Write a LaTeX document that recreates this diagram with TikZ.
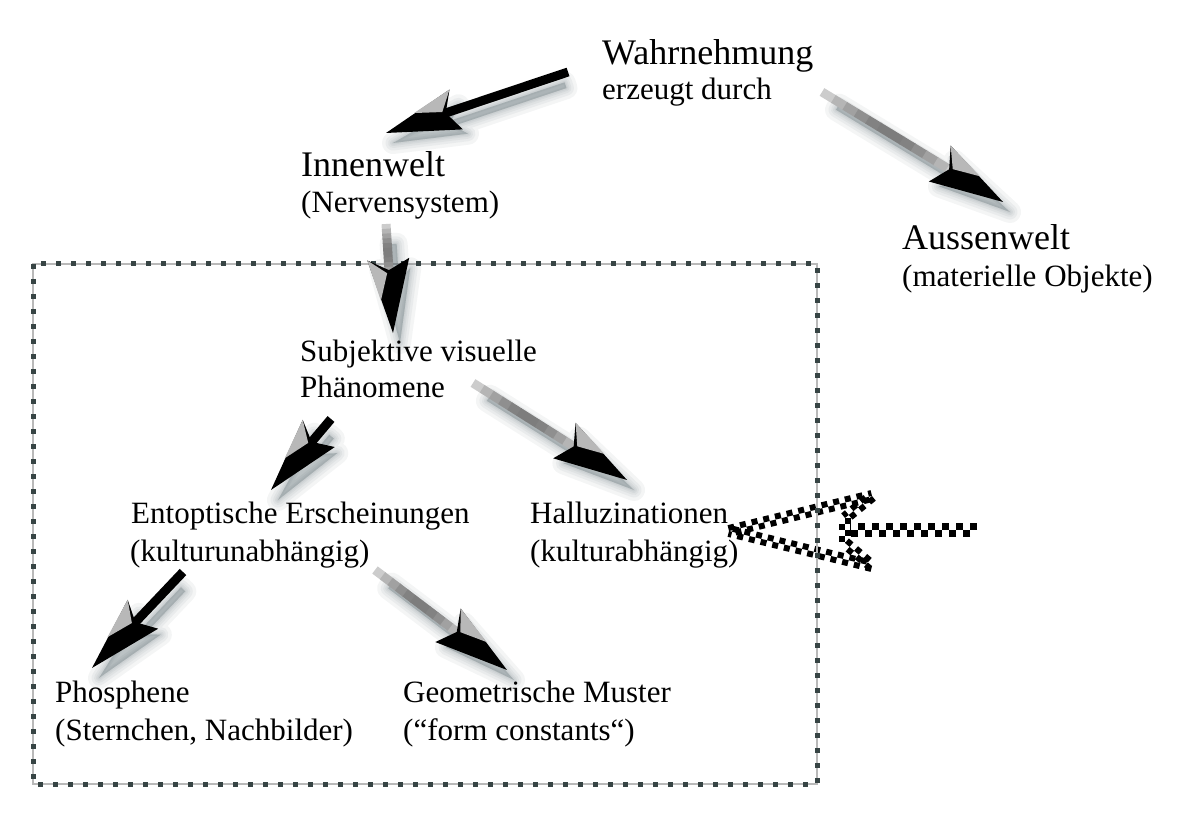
\documentclass[tikz,border=0pt]{standalone}
\usepackage{fontspec}
\setmainfont{Liberation Serif}
\usetikzlibrary{calc}
\definecolor{shadowc}{RGB}{45,65,72}
\definecolor{boxc}{RGB}{55,68,68}
\tikzset{
  lbl/.style={anchor=base west, inner sep=0pt, font=\fontsize{31}{38}\selectfont},
  biglbl/.style={anchor=base west, inner sep=0pt, font=\fontsize{36}{43}\selectfont},
  chk/.style={line width=6pt, dash pattern=on 6pt off 6pt, black},
  shaftchk/.style={line width=7pt, dash pattern=on 7pt off 7pt, black},
}
% #1 tail, #2 tip, #3 side of light facet (1 or -1), #4 shaft: 0 dark, 1 light
\newcommand\fancyarrow[4]{%
  \path let \p1=(#1), \p2=(#2), \n1={atan2(\y2-\y1,\x2-\x1)}, \n2={veclen(\x2-\x1,\y2-\y1)} in
    \pgfextra{\xdef\FAang{\n1}\xdef\FAraw{\n2}\xdef\FAx{\x1}\xdef\FAy{\y1}};
  \pgfmathsetmacro\FAlen{\FAraw}%
  \pgfmathsetmacro\FAn{\FAlen-63}%
  \pgfmathsetmacro\FAe{\FAlen-52}%
  \pgfmathsetmacro\FAw{\FAlen-74}%
  \pgfmathsetmacro\FAs{21*#3}%
  \pgfmathsetmacro\FAfa{\FAlen-60}%
  \pgfmathsetmacro\FAfb{2*#3}%
  \pgfmathsetmacro\FAfc{\FAlen-33}%
  \pgfmathsetmacro\FAfd{10*#3}%
  \begin{scope}[shift={(7pt,-10pt)}]
    \begin{scope}[shift={(\FAx,\FAy)}, rotate=\FAang]
      \foreach \lw in {22,15,10,6,3}{
        \filldraw[fill=shadowc, draw=shadowc, fill opacity=0.05, draw opacity=0.05,
          line width=\lw pt, line join=round]
          (10pt,3pt) -- (\FAn pt,3pt) -- (\FAw pt,15pt) -- (\FAlen pt,0pt)
          -- (\FAw pt,-15pt) -- (\FAn pt,-3pt) -- (10pt,-3pt) -- cycle;
      }
    \end{scope}
  \end{scope}
  \begin{scope}[shift={(\FAx,\FAy)}, rotate=\FAang]
    \ifnum#4=1
      \foreach \i in {0,...,11}{
        \pgfmathsetmacro\xa{\i*\FAe/12}
        \pgfmathsetmacro\xb{(\i+1)*\FAe/12+0.6}
        \pgfmathtruncatemacro\cc{16+36*sin(7.5*(2*\i+1))}
        \fill[black!\cc] (\xa pt,-4.5pt) rectangle (\xb pt,4.5pt);
      }
    \else
      \fill[black] (0pt,-4.5pt) rectangle (\FAe pt,4.5pt);
    \fi
    \fill[black] (\FAlen pt,0pt) -- (\FAw pt,-\FAs pt) -- (\FAn pt,0pt) -- (\FAw pt,\FAs pt) -- cycle;
    \fill[black!28] (\FAw pt,\FAs pt) -- (\FAfa pt,\FAfb pt) -- (\FAfc pt,\FAfd pt) -- cycle;
  \end{scope}
}
\newcommand\checkedge[2]{%
  \draw[chk] ($(#1)!3pt!90:(#2)$) -- ($(#2)!3pt!-90:(#1)$);
  \draw[chk, dash phase=6pt] ($(#1)!3pt!-90:(#2)$) -- ($(#2)!3pt!90:(#1)$);
}
\begin{document}
\begin{tikzpicture}[x=1pt,y=-1pt]
\useasboundingbox[fill=white] (0,0) rectangle (1200,826);

% checkered arrow from the right
\coordinate (ct) at (729,531);
\coordinate (cuw) at (872,496);
\coordinate (cn1) at (845,518);
\coordinate (cn2) at (845,543);
\coordinate (clw) at (872,566);
\coordinate (cs1) at (977,526.5);
\coordinate (cs1e) at (850,526.5);
\coordinate (cs2) at (977,533.5);
\coordinate (cs2e) at (850,533.5);
\draw[shaftchk] (cs1) -- (cs1e);
\draw[shaftchk, dash phase=7pt] (cs2) -- (cs2e);
\checkedge{ct}{cuw}
\checkedge{cuw}{cn1}
\checkedge{cn1}{cn2}
\checkedge{cn2}{clw}
\checkedge{clw}{ct}

% frame
\draw[gray!55, line width=1.2pt] (33,264) rectangle (817,784);
\draw[boxc, line width=5pt, dash pattern=on 5pt off 10pt] (33,264) rectangle (817,784);

% arrow end points
\coordinate (a1s) at (568,72);   \coordinate (a1e) at (386,133);
\coordinate (a2s) at (822,92);   \coordinate (a2e) at (1003,202);
\coordinate (a3s) at (386,224);  \coordinate (a3e) at (393,333);
\coordinate (a4s) at (331,419);  \coordinate (a4e) at (271,490);
\coordinate (a5s) at (473,383);  \coordinate (a5e) at (627,480);
\coordinate (a6s) at (183,572);  \coordinate (a6e) at (92,668);
\coordinate (a7s) at (375,570);  \coordinate (a7e) at (507,670);

\fancyarrow{a1s}{a1e}{-1}{0}
\fancyarrow{a2s}{a2e}{1}{1}
\fancyarrow{a3s}{a3e}{-1}{1}
\fancyarrow{a4s}{a4e}{-1}{0}
\fancyarrow{a5s}{a5e}{1}{1}
\fancyarrow{a6s}{a6e}{-1}{0}
\fancyarrow{a7s}{a7e}{1}{1}

% texts
\node[biglbl] (wahr) at (602,65) {Wahrnehmung};
\node[lbl] (wahr2) at (602,100) {erzeugt durch};
\node[biglbl] (innen) at (301,177) {Innenwelt};
\node[lbl] (innen2) at (301,213) {(Nervensystem)};
\node[biglbl] (aussen) at (902,250) {Aussenwelt};
\node[lbl] (aussen2) at (902,287) {(materielle Objekte)};
\node[lbl] (subj) at (300,362) {Subjektive visuelle};
\node[lbl] (subj2) at (300,397) {Phänomene};
\node[lbl] (ento) at (131,523) {Entoptische Erscheinungen};
\node[lbl] (ento2) at (130,561) {(kulturunabhängig)};
\node[lbl] (hall) at (530,523) {Halluzinationen};
\node[lbl] (hall2) at (530,561) {(kulturabhängig)};
\node[lbl] (phos) at (55,702) {Phosphene};
\node[lbl] (phos2) at (55,740) {(Sternchen, Nachbilder)};
\node[lbl] (geo) at (403,702) {Geometrische Muster};
\node[lbl] (geo2) at (403,740) {(“form constants“)};
\end{tikzpicture}
\end{document}
